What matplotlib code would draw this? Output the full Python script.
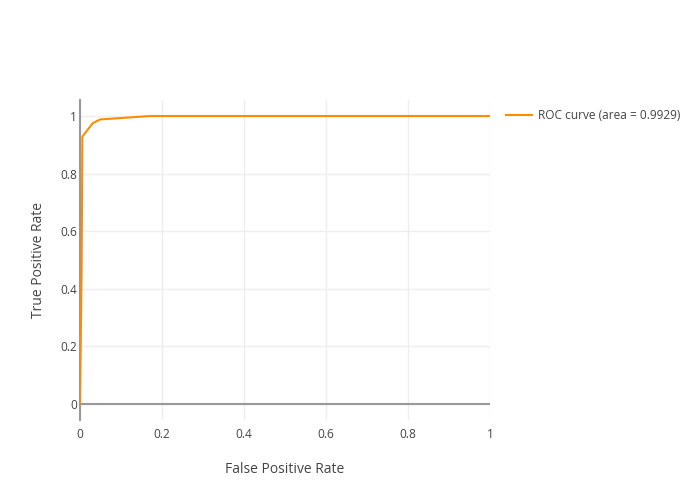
import matplotlib
matplotlib.use("Agg")
import matplotlib.pyplot as plt

plt.rcParams['font.family'] = ['Open Sans', 'DejaVu Sans']

# ROC curve points
fpr = [0.0, 0.004, 0.0057, 0.031, 0.049, 0.171, 1.0]
tpr = [0.0, 0.47, 0.928, 0.975, 0.988, 1.0, 1.0]
roc_auc = 0.9929

x_ticks = [0, 0.2, 0.4, 0.6, 0.8, 1]
x_labels = ['0', '0.2', '0.4', '0.6', '0.8', '1']
y_ticks = [0, 0.2, 0.4, 0.6, 0.8, 1]
y_labels = ['0', '0.2', '0.4', '0.6', '0.8', '1']

fig = plt.figure(figsize=(7, 5), dpi=100)
ax = fig.add_axes([80 / 700, 80 / 500, 410 / 700, 320 / 500])

ax.plot(fpr, tpr, color='#ff8c00', linewidth=1.5,
        label='ROC curve (area = %0.4f)' % roc_auc, zorder=3)

ax.set_xlim(0, 1)
ax.set_ylim(-0.0556, 1.0556)
ax.set_xticks(x_ticks)
ax.set_xticklabels(x_labels)
ax.set_yticks(y_ticks)
ax.set_yticklabels(y_labels)

ax.grid(True, color='#eeeeee', linewidth=1)
ax.set_axisbelow(True)
ax.axhline(0, color='#999999', linewidth=1.5, zorder=2)

for s in ['top', 'right', 'bottom']:
    ax.spines[s].set_visible(False)
ax.spines['left'].set_color('#999999')
ax.spines['left'].set_linewidth(1.5)

ax.tick_params(axis='both', length=0, labelsize=8.6, colors='#444444')
ax.tick_params(axis='x', pad=6)
ax.tick_params(axis='y', pad=2)

ax.set_xlabel('False Positive Rate', fontsize=10, color='#444444', labelpad=15)
ax.set_ylabel('True Positive Rate', fontsize=10, color='#444444', labelpad=10)

leg = ax.legend(loc='upper left', bbox_to_anchor=(1.013, 1.006), frameon=False,
                fontsize=8.6, handlelength=2.2, handletextpad=0.5)
for t in leg.get_texts():
    t.set_color('#444444')

fig.savefig('out.png', dpi=100)
